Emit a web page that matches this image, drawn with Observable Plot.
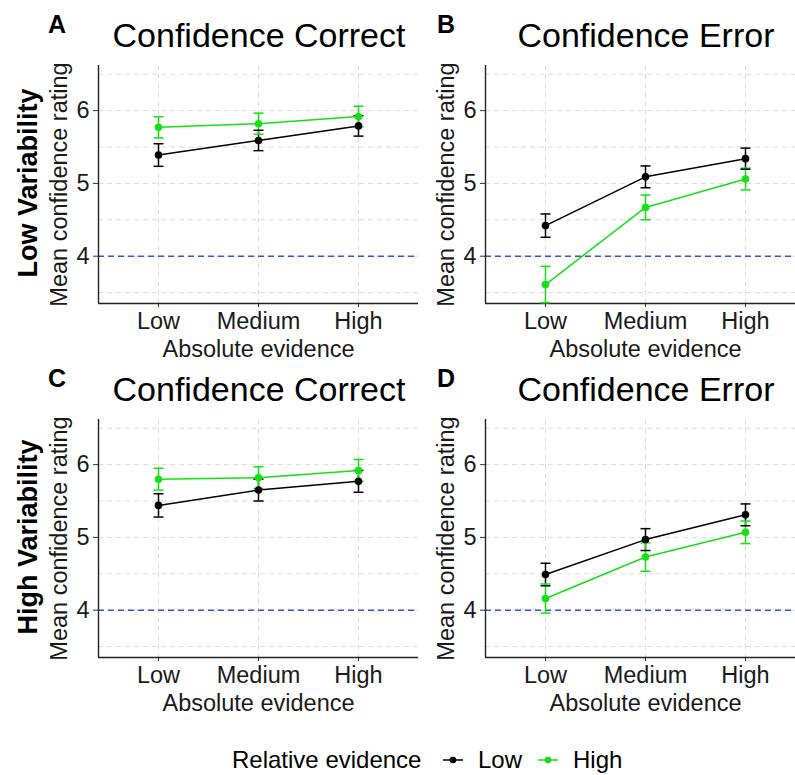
<!DOCTYPE html>
<html><head><meta charset="utf-8">
<script src="https://cdn.jsdelivr.net/npm/d3@7"></script>
<script src="https://cdn.jsdelivr.net/npm/@observablehq/plot@0.6"></script>
<style>
html,body{margin:0;padding:0;background:#fff;overflow:hidden}
#root{position:relative;width:795px;height:775px;overflow:hidden;font-family:"Liberation Sans",Arial,sans-serif;color:#1a1a1a;background:#fff}
.panel{position:absolute}
.panel svg{overflow:visible;max-width:none;background:transparent}
#overlay{position:absolute;left:0;top:0;pointer-events:none}
</style></head><body><div id="root"></div>
<script>
// ---- data ----
const evidenceLevels = ["Low", "Medium", "High"];          // absolute evidence (x)
const relativeLevels = ["Low", "High"];                    // relative evidence (colour)
const panelLetters = ["A", "B", "C", "D"];
const panelTitles = ["Confidence Correct", "Confidence Error", "Confidence Correct", "Confidence Error"];
const rowLabels = ["Low Variability", "High Variability"];
const yTicks = [4, 5, 6];
const yMinor = [3.5, 4.5, 5.5, 6.5];
const chanceLevel = 4;

// means and half-widths of error bars, per panel and relative-evidence level
const aLowMean  = [5.39, 5.59, 5.79]; const aLowErr  = [0.155, 0.14, 0.14];
const aHighMean = [5.77, 5.82, 5.92]; const aHighErr = [0.145, 0.145, 0.14];
const bLowMean  = [4.42, 5.09, 5.34]; const bLowErr  = [0.16, 0.15, 0.145];
const bHighMean = [3.61, 4.67, 5.06]; const bHighErr = [0.25, 0.17, 0.15];
const cLowMean  = [5.44, 5.65, 5.77]; const cLowErr  = [0.16, 0.15, 0.15];
const cHighMean = [5.80, 5.82, 5.92]; const cHighErr = [0.15, 0.15, 0.15];
const dLowMean  = [4.49, 4.97, 5.31]; const dLowErr  = [0.155, 0.15, 0.15];
const dHighMean = [4.16, 4.73, 5.07]; const dHighErr = [0.20, 0.195, 0.155];

const panelsData = [
  [[aLowMean, aLowErr], [aHighMean, aHighErr]],
  [[bLowMean, bLowErr], [bHighMean, bHighErr]],
  [[cLowMean, cLowErr], [cHighMean, cHighErr]],
  [[dLowMean, dLowErr], [dHighMean, dHighErr]]
];

// ---- styling ----
const colors = {Low: "#000000", High: "#14e014"};
const font = '"Liberation Sans", Arial, sans-serif';
const gridColor = "#dcdcdc";
const root = document.getElementById("root");

// layout: [left, top, width, marginLeft, marginRight]
const layout = [
  [0, 0, 420, 98, 2],
  [400, 0, 405, 85, 0],
  [0, 354, 420, 98, 2],
  [400, 354, 405, 85, 0]
];

panelsData.forEach((series, p) => {
  const rows = [];
  series.forEach(([means, errs], g) => {
    means.forEach((m, i) => rows.push({
      x: i + 1, level: evidenceLevels[i], group: relativeLevels[g],
      mean: m, lo: m - errs[i], hi: m + errs[i]
    }));
  });
  const byGroup = relativeLevels.map(g => rows.filter(r => r.group === g));
  const [left, top, width, mL, mR] = layout[p];
  const capHalf = 0.05;
  const chart = Plot.plot({
    width, height: 370,
    marginLeft: mL, marginRight: mR, marginTop: 65, marginBottom: 67,
    style: {background: "transparent", fontFamily: font, fontSize: "23.5px", color: "#1a1a1a", overflow: "visible"},
    x: {domain: [0.4, 3.6]},
    y: {domain: [3.35, 6.62]},
    marks: [
      Plot.gridY(yMinor, {stroke: gridColor, strokeOpacity: 1, strokeDasharray: "5,4"}),
      Plot.gridY(yTicks, {stroke: gridColor, strokeOpacity: 1, strokeDasharray: "5,4"}),
      Plot.gridX([1, 2, 3], {stroke: gridColor, strokeOpacity: 1, strokeDasharray: "5,4"}),
      Plot.ruleY([chanceLevel], {stroke: "#3f51d4", strokeWidth: 1.5, strokeDasharray: "6,4"}),
      Plot.axisX([1, 2, 3], {
        tickFormat: i => evidenceLevels[i - 1], tickSize: 4, tickPadding: 5, stroke: "#333",
        label: "Absolute evidence", labelAnchor: "center", labelOffset: 53, labelArrow: "none"
      }),
      Plot.axisY(yTicks, {
        tickFormat: d => String(d), tickSize: 5, tickPadding: 4, stroke: "#333",
        label: "Mean confidence rating", labelAnchor: "center", labelOffset: 48, labelArrow: "none"
      }),
      Plot.ruleX([0.4], {stroke: "#222", strokeWidth: 1.4}),
      Plot.ruleY([3.35], {stroke: "#222", strokeWidth: 1.4}),
      ...byGroup.map(d => Plot.ruleX(d, {x: "x", y1: "lo", y2: "hi", stroke: colors[d[0].group], strokeWidth: 1.5})),
      ...byGroup.map(d => Plot.link(d, {x1: r => r.x - capHalf, x2: r => r.x + capHalf, y1: "hi", y2: "hi", stroke: colors[d[0].group], strokeWidth: 1.5})),
      ...byGroup.map(d => Plot.link(d, {x1: r => r.x - capHalf, x2: r => r.x + capHalf, y1: "lo", y2: "lo", stroke: colors[d[0].group], strokeWidth: 1.5})),
      ...byGroup.map(d => Plot.line(d, {x: "x", y: "mean", stroke: colors[d[0].group], strokeWidth: 1.5})),
      ...byGroup.map(d => Plot.dot(d, {x: "x", y: "mean", fill: colors[d[0].group], r: 3.8}))
    ]
  });
  const div = document.createElement("div");
  div.className = "panel";
  div.style.left = left + "px";
  div.style.top = top + "px";
  div.appendChild(chart);
  root.appendChild(div);
});

// ---- overlay text: panel letters, titles, row labels, legend ----
const svg = d3.create("svg").attr("id", "overlay").attr("width", 795).attr("height", 775)
  .style("font-family", font);
const letterPos = [[48, 33], [437, 33], [48, 387], [437, 387]];
const titlePos = [[259, 47], [646, 47], [259, 401], [646, 401]];
panelLetters.forEach((t, i) => svg.append("text").attr("x", letterPos[i][0]).attr("y", letterPos[i][1])
  .attr("font-size", 25).attr("font-weight", "bold").attr("fill", "#000").text(t));
panelTitles.forEach((t, i) => svg.append("text").attr("x", titlePos[i][0]).attr("y", titlePos[i][1])
  .attr("font-size", 34).attr("text-anchor", "middle").attr("fill", "#000").text(t));
const rowPos = [183, 537];
rowLabels.forEach((t, i) => svg.append("text").attr("transform", `translate(37,${rowPos[i]}) rotate(-90)`)
  .attr("font-size", 27).attr("font-weight", "bold").attr("text-anchor", "middle").attr("fill", "#000").text(t));

// legend
const lg = svg.append("g");
lg.append("text").attr("x", 232).attr("y", 768).attr("font-size", 24).attr("fill", "#000").text("Relative evidence");
const keyX = [443, 538], labX = [478, 573];
relativeLevels.forEach((g, i) => {
  lg.append("line").attr("x1", keyX[i]).attr("x2", keyX[i] + 20).attr("y1", 760).attr("y2", 760)
    .attr("stroke", colors[g]).attr("stroke-width", 1.5);
  lg.append("circle").attr("cx", keyX[i] + 10).attr("cy", 760).attr("r", 3.3).attr("fill", colors[g]);
  lg.append("text").attr("x", labX[i]).attr("y", 768).attr("font-size", 24).attr("fill", "#000").text(g);
});
root.appendChild(svg.node());
</script></body></html>
